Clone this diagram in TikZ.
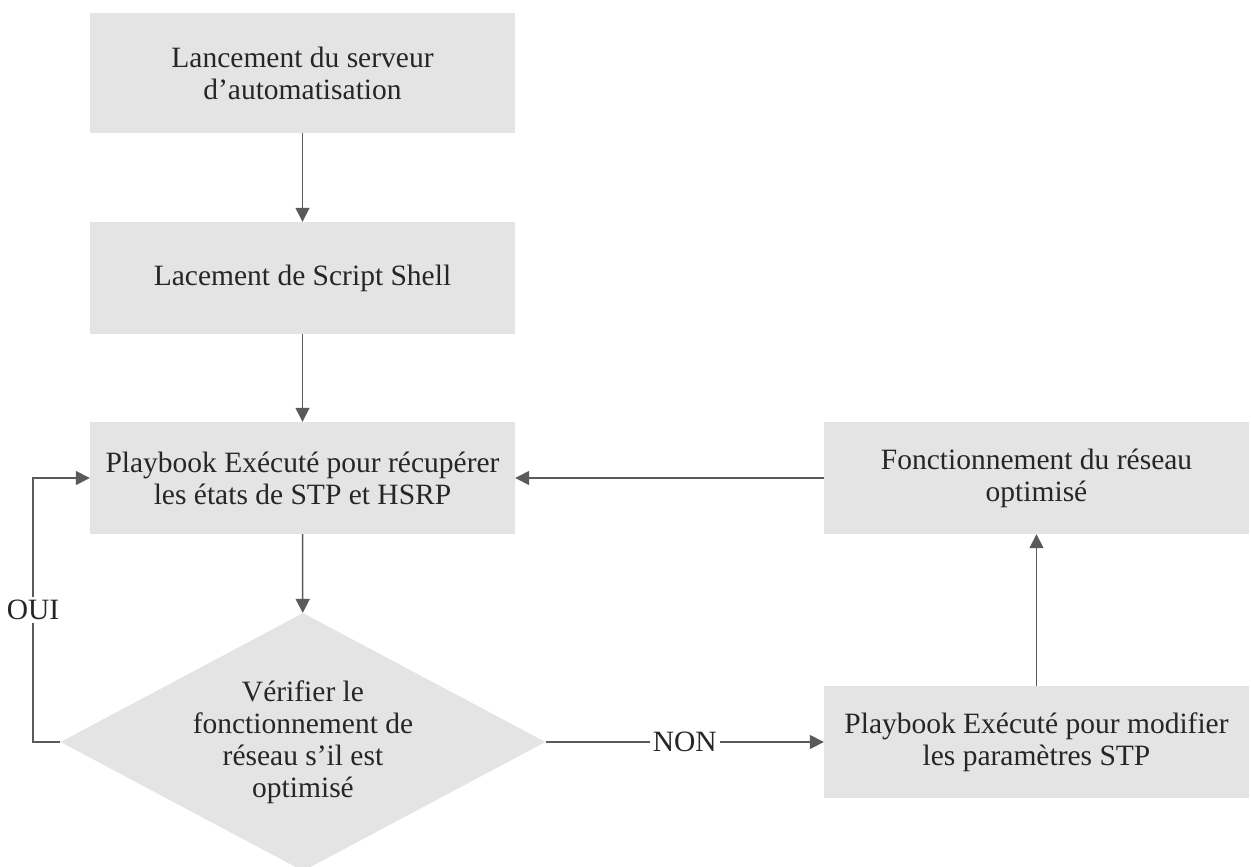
\documentclass[tikz,border=0pt]{standalone}
\usepackage{fontspec}
\setmainfont{Liberation Serif}
\usetikzlibrary{arrows.meta,shapes.geometric}
\definecolor{boxfill}{HTML}{E4E4E4}
\definecolor{inkgray}{HTML}{262626}
\definecolor{linegray}{HTML}{5A5A5A}
\begin{document}
\begin{tikzpicture}[x=1pt,y=-1pt,
  font=\fontsize{29.5}{32}\selectfont,
  every node/.style={text=inkgray},
  stepbox/.style={fill=boxfill,draw=none,inner sep=0pt,align=center,
    minimum width=425pt,minimum height=112pt},
  decision/.style={diamond,fill=boxfill,draw=none,inner sep=0pt,align=center,
    aspect=1.88,minimum width=485pt,minimum height=258pt},
  flow/.style={draw=linegray,line width=1.5pt,
    -{Triangle[length=14pt,width=14pt]}},
  lbl/.style={fill=white,inner sep=3pt}]
\useasboundingbox (0,0) rectangle (1251,867);

% process steps
\node[stepbox,minimum height=120pt] (b1) at (302.5,73)
  {Lancement du serveur\\d’automatisation};
\node[stepbox] (b2) at (302.5,278) {Lacement de Script Shell};
\node[stepbox] (b3) at (302.5,478)
  {Playbook Exécuté pour récupérer\\les états de STP et HSRP};
\node[stepbox] (b4) at (1036.5,478)
  {Fonctionnement du réseau\\optimisé};
\node[stepbox] (b5) at (1036.5,742)
  {Playbook Exécuté pour modifier\\les paramètres STP};

% decision
\node[decision] (dec) at (303,742)
  {Vérifier le\\fonctionnement de\\réseau s’il est\\optimisé};

% connectors
\draw[flow] (b1) -- (b2);
\draw[flow] (b2) -- (b3);
\draw[flow] (b3) -- (dec);
\draw[flow] (dec.east) -- node[lbl] (non) {NON} (b5.west);
\draw[flow] (b5) -- (b4);
\draw[flow] (b4) -- (b3);
\coordinate (loop) at (33,478);
\draw[flow] (dec.west) -| (loop) -- (b3.west);
\node[lbl] (oui) at (33,610) {OUI};
\end{tikzpicture}
\end{document}
